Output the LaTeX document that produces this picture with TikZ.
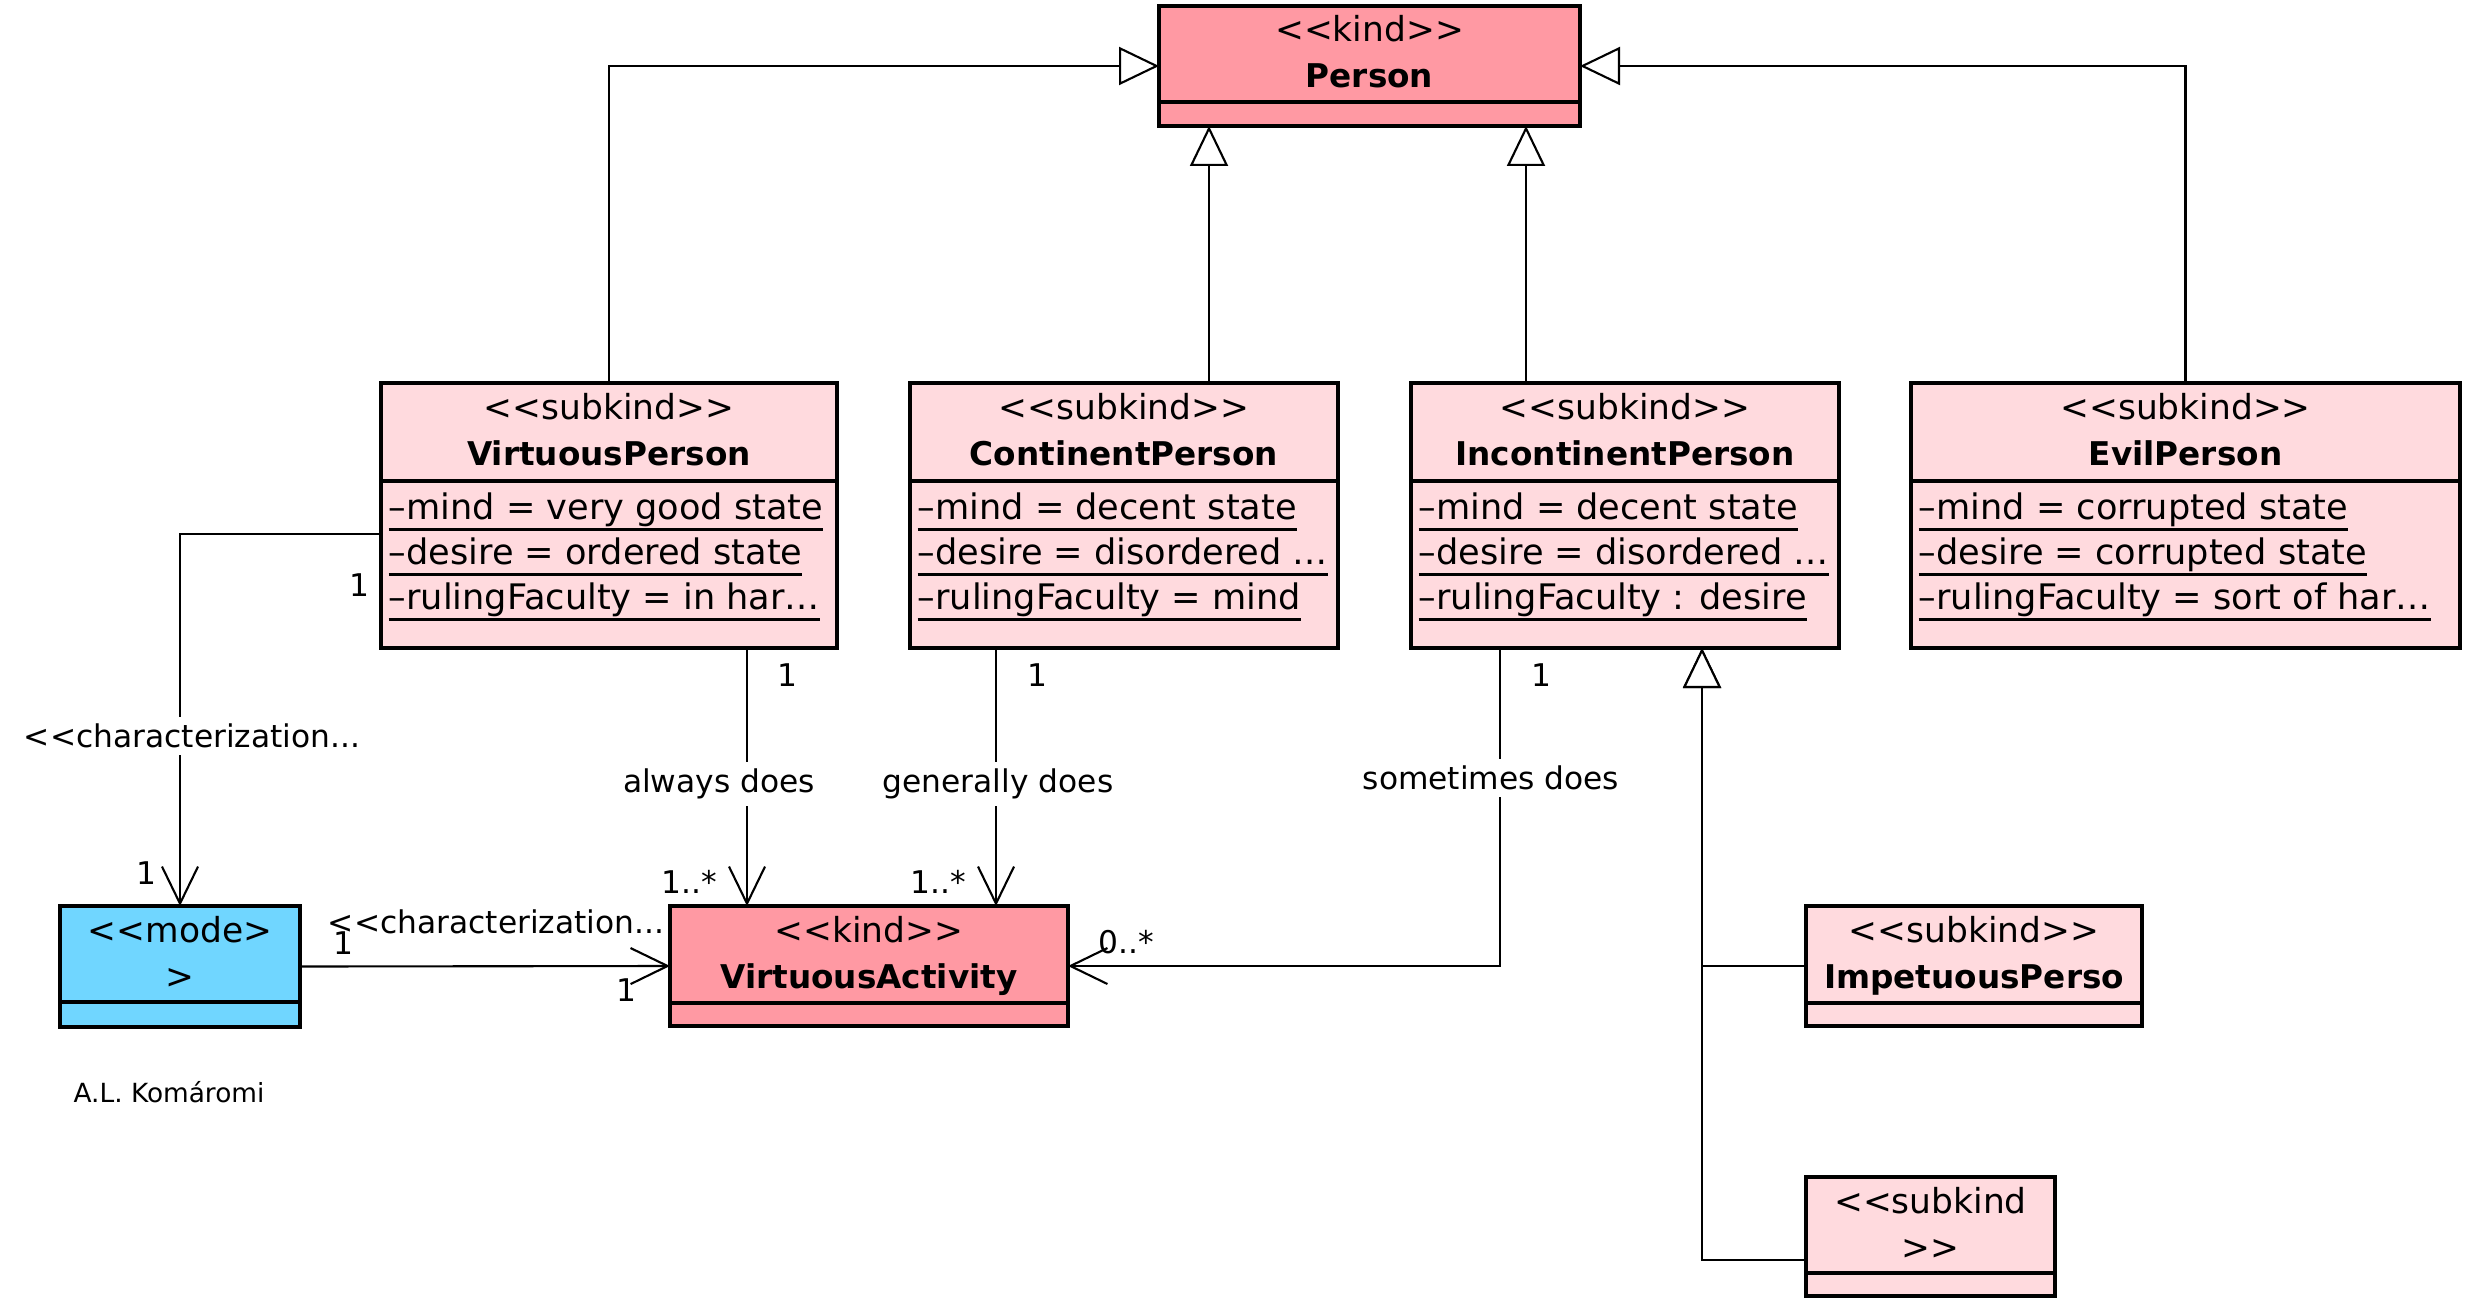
\documentclass[tikz,border=0pt]{standalone}
\usepackage{fontspec}
\setmainfont{DejaVu Sans}[Ligatures=TeXOff]
\usepackage{tikz}
\usetikzlibrary{positioning,calc,arrows.meta}
\definecolor{kindpink}{HTML}{FF99A3}
\definecolor{subpink}{HTML}{FFDADE}
\definecolor{modeblue}{HTML}{70D6FF}
\newcommand\attrtext[1]{\setbox0=\hbox{#1}\rlap{\rule[-3.3pt]{\wd0}{0.85pt}}\box0}

\begin{document}
\begin{tikzpicture}[x=1cm, y=-1cm,
  classbox/.style={draw, line width=0.9pt, inner sep=0pt, outer sep=0pt, anchor=north west},
  stereo/.style={inner sep=0pt, anchor=base, font=\fontsize{9.8}{11}\selectfont},
  cname/.style={inner sep=0pt, anchor=base, font=\fontsize{9.3}{11}\selectfont\bfseries},
  attr/.style={inner sep=0pt, anchor=base west, font=\fontsize{10}{12}\selectfont},
  lbl/.style={inner sep=2pt, font=\fontsize{8.9}{10}\selectfont},
  gaplbl/.style={lbl, fill=white},
  gen/.style={line width=0.6pt, -{Triangle[open, length=0.40cm, width=0.38cm, fill=white]}},
  assoc/.style={line width=0.6pt, -{Straight Barb[length=0.37cm, width=0.36cm]}}
]
  \useasboundingbox (0,0) rectangle (24.72,13.08);

  \foreach \n/\x/\y/\w/\h/\d/\c in {person/11.59/0.06/4.21/1.20/0.96/kindpink,
      vp/3.81/3.83/4.56/2.65/0.98/subpink, cp/9.10/3.83/4.28/2.65/0.98/subpink,
      ip/14.11/3.83/4.28/2.65/0.98/subpink, ep/19.11/3.83/5.49/2.65/0.98/subpink,
      va/6.70/9.06/3.98/1.20/0.97/kindpink, mode/0.60/9.06/2.40/1.21/0.96/modeblue,
      imp/18.06/9.06/3.36/1.20/0.97/subpink, sub/18.06/11.77/2.49/1.19/0.96/subpink} {
    \node[classbox, fill=\c, minimum width=\w cm, minimum height=\h cm] (\n) at (\x,\y) {};
    \draw[line width=0.9pt] ($(\n.north west)+(0,\d)$) -- ($(\n.north east)+(0,\d)$);
  }

  \foreach \n/\s/\t in {person/kind/Person, vp/subkind/VirtuousPerson,
      cp/subkind/ContinentPerson, ip/subkind/IncontinentPerson, ep/subkind/EvilPerson,
      va/kind/VirtuousActivity, imp/subkind/ImpetuousPerso} {
    \node[stereo] (\n-st) at ($(\n.north)+(0,0.36)$) {<<\s>>};
    \node[cname] (\n-nm) at ($(\n.north)+(0,0.82)$) {\t};
  }
  \node[stereo] (mode-st) at ($(mode.north)+(0,0.36)$) {<<mode>};
  \node[stereo] (mode-nm) at ($(mode.north)+(0,0.82)$) {>};
  \node[stereo] (sub-st) at ($(sub.north)+(0,0.36)$) {<<subkind};
  \node[stereo] (sub-nm) at ($(sub.north)+(0,0.82)$) {>>};

  \foreach \n/\a/\b/\c in {vp/{mind = very good state}/{desire = ordered state}/{rulingFaculty = in har\dots},
      cp/{mind = decent state}/{desire = disordered \dots}/{rulingFaculty = mind},
      ip/{mind = decent state}/{desire = disordered \dots}/{rulingFaculty : desire},
      ep/{mind = corrupted state}/{desire = corrupted state}/{rulingFaculty = sort of har\dots}} {
    \node[attr] (\n-a1) at ($(\n.north west)+(0.07,1.36)$) {\attrtext{\textendash\a}};
    \node[attr] (\n-a2) at ($(\n.north west)+(0.07,1.81)$) {\attrtext{\textendash\b}};
    \node[attr] (\n-a3) at ($(\n.north west)+(0.07,2.26)$) {\attrtext{\textendash\c}};
  }

  \draw[gen] (vp.north) |- (person.west);
  \draw[gen] (ep.north) |- (person.east);
  \draw[gen] (cp.north -| 12.09,0) -- (person.south -| 12.09,0);
  \draw[gen] (ip.north -| 15.26,0) -- (person.south -| 15.26,0);
  \draw[gen] (imp.west) -| (ip.south -| 17.02,0);
  \draw[gen] (sub.west |- 0,12.60) -| (ip.south -| 17.02,0);

  \draw[assoc] (vp.south -| 7.47,0) -- (va.north -| 7.47,0);
  \draw[assoc] (cp.south -| 9.96,0) -- (va.north -| 9.96,0);
  \draw[assoc] (ip.south -| 15.00,0) |- (va.east);
  \draw[assoc] (vp.west |- 0,5.34) -| (mode.north);
  \draw[assoc] (mode.east) -- (va.west);

  \node[gaplbl] (charv) at (1.92,7.36) {<<characterization...};
  \node[gaplbl] (always) at (7.19,7.84) {always does};
  \node[gaplbl] (generally) at (9.98,7.84) {generally does};
  \node[gaplbl] (sometimes) at (14.91,7.78) {sometimes does};
  \node[lbl] (charh) at (4.96,9.22) {<<characterization...};

  \node[lbl] (m1) at (3.59,5.85) {1};
  \node[lbl] (m2) at (1.46,8.73) {1};
  \node[lbl] (m3) at (3.43,9.43) {1};
  \node[lbl] (m4) at (6.26,9.90) {1};
  \node[lbl] (m5) at (7.87,6.75) {1};
  \node[lbl] (m6) at (10.37,6.75) {1};
  \node[lbl] (m7) at (15.41,6.75) {1};
  \node[lbl] (m8) at (6.89,8.82) {1..*};
  \node[lbl] (m9) at (9.38,8.82) {1..*};
  \node[lbl] (m10) at (11.26,9.42) {0..*};

  \node[inner sep=0pt, font=\fontsize{7.5}{9}\selectfont] (credit) at (1.69,10.92) {A.L. Komáromi};
\end{tikzpicture}
\end{document}
